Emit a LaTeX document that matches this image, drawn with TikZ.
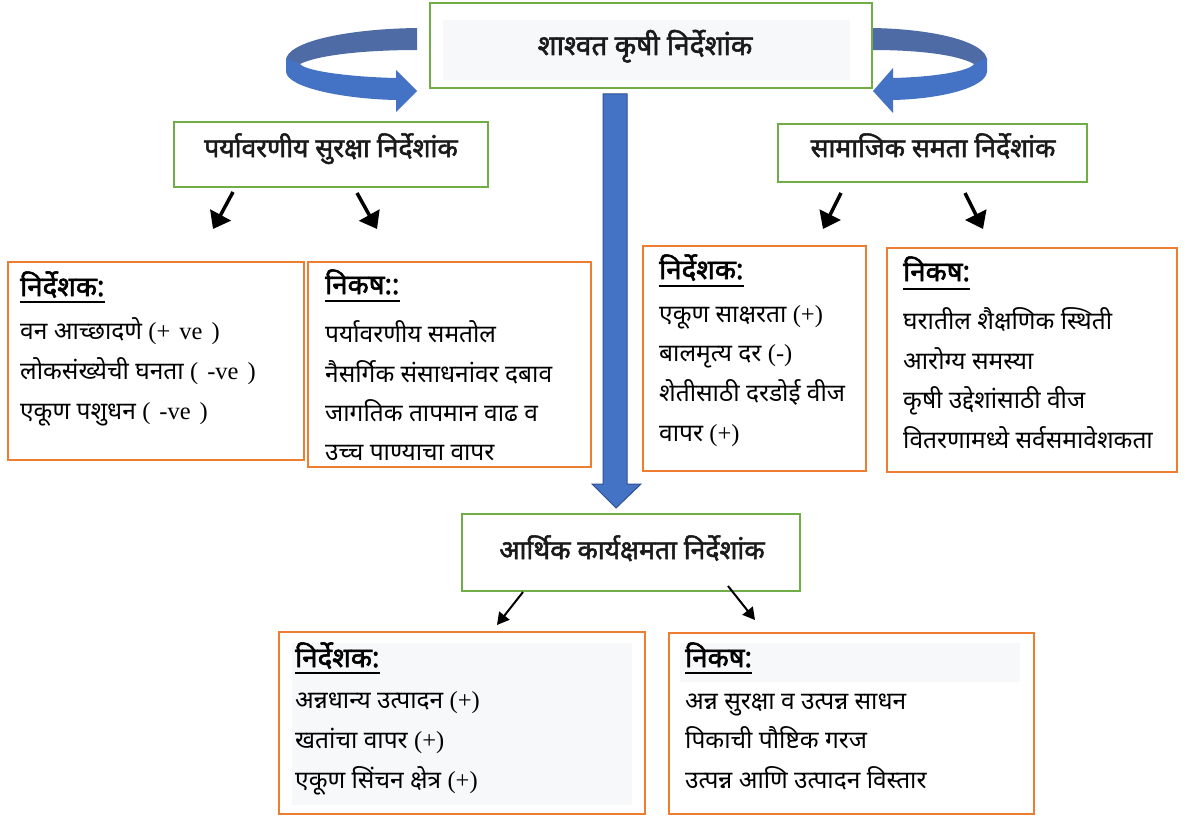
\documentclass[tikz,border=0pt]{standalone}
\usepackage{fontspec}
\newfontfamily\dev[Script=Devanagari]{Noto Sans}
\newfontfamily\devb[Script=Devanagari, FakeBold=2]{Noto Sans}
\newfontfamily\tim{Liberation Serif}
\newcommand\vsp{\hspace{9pt}}
\usetikzlibrary{arrows.meta}
\definecolor{grn}{HTML}{70AD47}
\definecolor{org}{HTML}{ED7D31}
\definecolor{blu}{HTML}{4472C4}
\definecolor{bludk}{HTML}{2F528F}
\definecolor{bluback}{HTML}{4F6BA6}
\definecolor{pale}{HTML}{F7F8FA}
\definecolor{ink}{HTML}{1A1A1A}
\tikzset{
 gbox/.style={draw=grn, line width=2pt, inner sep=0pt, outer sep=0pt},
 obox/.style={draw=org, line width=2pt, inner sep=0pt, outer sep=0pt},
 ttl/.style={font=\devb\fontsize{26.5}{30}\selectfont, text=ink, inner sep=0pt, anchor=base},
 toptl/.style={font=\devb\fontsize{28}{32}\selectfont, text=ink, inner sep=0pt, anchor=base},
 hdr/.style={font=\devb\fontsize{27.5}{31}\selectfont, inner sep=0pt, anchor=base west},
 txt/.style={font=\dev\fontsize{24.5}{28}\selectfont, inner sep=0pt, anchor=base west},
 blk/.style={line width=3.5pt, -{Triangle[width=23pt,length=16pt]}},
 blks/.style={line width=2pt, -{Triangle[width=13pt,length=12pt]}},
 uline/.style={line width=2.5pt}
}
\begin{document}
\begin{tikzpicture}[x=1pt,y=-1pt]
\useasboundingbox (0,0) rectangle (1192,816);
\fill[white] (0,0) rectangle (1192,816);

% curved blue arrows
\fill[bluback] (417,28) .. controls (345,29) and (287,42) .. (286,60) -- (300,64) .. controls (318,55) and (365,50) .. (417,50) -- cycle;
\fill[blu] (286,58) -- (286,72) .. controls (288,88) and (345,99) .. (396,100) -- (396,112) -- (417,91) -- (396,70) -- (396,78) .. controls (350,77) and (305,71) .. (300,64) -- cycle;
\fill[bluback] (872,28) .. controls (935,29) and (986,42) .. (987,60) -- (974,64) .. controls (958,55) and (920,50) .. (872,50) -- cycle;
\fill[blu] (987,58) -- (987,72) .. controls (985,88) and (940,99) .. (893,100) -- (893,113) -- (873,91) -- (893,68) -- (893,78) .. controls (935,77) and (970,71) .. (974,64) -- cycle;

% central arrow
\filldraw[fill=blu, draw=bludk, line width=1pt] (603,94) -- (627,94) -- (627,484) -- (641,484) -- (616,508) -- (592,484) -- (603,484) -- cycle;

% boxes
\node[gbox, minimum width=442pt, minimum height=85pt] (top) at (651,45.5) {};
\fill[pale] (443,20) rectangle (850,80);
\node[gbox, minimum width=314pt, minimum height=65pt] (env) at (331,154.5) {};
\node[gbox, minimum width=309pt, minimum height=58pt] (soc) at (932.5,153) {};
\node[gbox, minimum width=338pt, minimum height=77pt] (eco) at (631,552.5) {};
\node[obox, minimum width=296pt, minimum height=198pt] (envI) at (156,361) {};
\node[obox, minimum width=283pt, minimum height=205pt] (envC) at (449.5,364.5) {};
\node[obox, minimum width=223pt, minimum height=225pt] (socI) at (754.5,358.5) {};
\node[obox, minimum width=290pt, minimum height=224pt] (socC) at (1032,360) {};
\node[obox, minimum width=366pt, minimum height=182pt] (ecoI) at (462,723) {};
\fill[pale] (292,643) rectangle (632,805);
\node[obox, minimum width=365pt, minimum height=181pt] (ecoC) at (851.5,723.5) {};
\fill[pale] (680,643) rectangle (1020,682);

% titles
\node[toptl] (tTop) at (645,55) {शाश्वत कृषी निर्देशांक};
\node[ttl] (tEnv) at (331,157) {पर्यावरणीय सुरक्षा निर्देशांक};
\node[ttl] (tSoc) at (933,157) {सामाजिक समता निर्देशांक};
\node[ttl] (tEco) at (632,559) {आर्थिक कार्यक्षमता निर्देशांक};

% env indicators
\node[hdr] (h1) at (20,296) {निर्देशक:};
\draw[uline] ([yshift=-6pt]h1.base west) -- ([yshift=-6pt]h1.base east);
\node[txt] (l11) at (20,339) {वन आच्छादणे {\tim (+\vsp ve\vsp)}};
\node[txt] (l12) at (20,379) {लोकसंख्येची घनता {\tim (\vsp-ve\vsp)}};
\node[txt] (l13) at (20,419) {एकूण पशुधन {\tim (\vsp-ve\vsp)}};

% env criteria
\node[hdr] (h2) at (325,294) {निकष::};
\draw[uline] ([yshift=-7pt]h2.base west) -- ([yshift=-7pt]h2.base east);
\node[txt] (l21) at (325,342) {पर्यावरणीय समतोल};
\node[txt] (l22) at (325,382) {नैसर्गिक संसाधनांवर दबाव};
\node[txt] (l23) at (325,421) {जागतिक तापमान वाढ व};
\node[txt] (l24) at (325,460) {उच्च पाण्याचा वापर};

% social indicators
\node[hdr] (h3) at (659,279) {निर्देशक:};
\draw[uline] ([yshift=-7pt]h3.base west) -- ([yshift=-7pt]h3.base east);
\node[txt] (l31) at (659,322) {एकूण साक्षरता {\tim (+)}};
\node[txt] (l32) at (659,361) {बालमृत्य दर {\tim (-)}};
\node[txt] (l33) at (659,401) {शेतीसाठी दरडोई वीज};
\node[txt] (l34) at (659,441) {वापर {\tim (+)}};

% social criteria
\node[hdr] (h4) at (903,281) {निकष:};
\draw[uline] ([yshift=-8pt]h4.base west) -- ([yshift=-8pt]h4.base east);
\node[txt] (l41) at (903,329) {घरातील शैक्षणिक स्थिती};
\node[txt] (l42) at (903,369) {आरोग्य समस्या};
\node[txt] (l43) at (903,408) {कृषी उद्देशांसाठी वीज};
\node[txt] (l44) at (903,448) {वितरणामध्ये सर्वसमावेशकता};

% economic indicators
\node[hdr] (h5) at (295,667) {निर्देशक:};
\draw[uline] ([yshift=-6pt]h5.base west) -- ([yshift=-6pt]h5.base east);
\node[txt] (l51) at (295,708) {अन्नधान्य उत्पादन {\tim (+)}};
\node[txt] (l52) at (295,748) {खतांचा वापर {\tim (+)}};
\node[txt] (l53) at (295,788) {एकूण सिंचन क्षेत्र {\tim (+)}};

% economic criteria
\node[hdr] (h6) at (685,667) {निकष:};
\draw[uline] ([yshift=-6pt]h6.base west) -- ([yshift=-6pt]h6.base east);
\node[txt] (l61) at (685,709) {अन्न सुरक्षा व उत्पन्न साधन};
\node[txt] (l62) at (685,748) {पिकाची पौष्टिक गरज};
\node[txt] (l63) at (685,788) {उत्पन्न आणि उत्पादन विस्तार};

% black arrows
\coordinate (a1s) at (233,192); \coordinate (a1e) at (213,229);
\coordinate (a2s) at (357,193); \coordinate (a2e) at (377,229);
\coordinate (a3s) at (841,193); \coordinate (a3e) at (823,229);
\coordinate (a4s) at (965,193); \coordinate (a4e) at (983,229);
\coordinate (a5s) at (523,592); \coordinate (a5e) at (497,625);
\coordinate (a6s) at (728,586); \coordinate (a6e) at (755,620);
\draw[blk] (a1s) -- (a1e);
\draw[blk] (a2s) -- (a2e);
\draw[blk] (a3s) -- (a3e);
\draw[blk] (a4s) -- (a4e);
\draw[blks] (a5s) -- (a5e);
\draw[blks] (a6s) -- (a6e);
\end{tikzpicture}
\end{document}
